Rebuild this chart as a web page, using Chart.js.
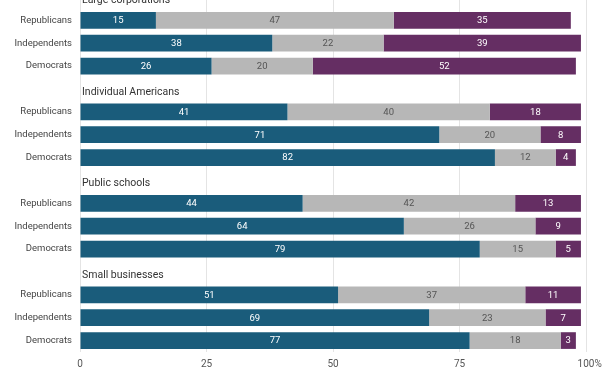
<!DOCTYPE html>
<html>
<head>
<meta charset="utf-8">
<script src="https://cdn.jsdelivr.net/npm/chart.js@4/dist/chart.umd.min.js"></script>
<style>
  html, body { margin: 0; padding: 0; background: #fff; overflow: hidden; }
  #wrap { position: absolute; left: 0; top: -14px; width: 612px; height: 388px; }
</style>
</head>
<body>
<div id="wrap"><canvas id="c" width="612" height="388"></canvas></div>
<script>
const groups = ["Large corporations", "Individual Americans", "Public schools", "Small businesses"];
const parties = ["Republicans", "Independents", "Democrats"];
const positive = [15, 38, 26, 41, 71, 82, 44, 64, 79, 51, 69, 77];
const neutral  = [47, 22, 20, 40, 20, 12, 42, 26, 15, 37, 23, 18];
const negative = [35, 39, 52, 18, 8, 4, 13, 9, 5, 11, 7, 3];
const xTicks = [0, 25, 50, 75, 100];

// build rows: one header slot + three party rows per group
const labels = [];
const headerIdx = [];
function expand(vals) {
  const out = [];
  groups.forEach((g, gi) => {
    out.push(null);
    parties.forEach((p, pi) => out.push(vals[gi * 3 + pi]));
  });
  return out;
}
groups.forEach((g, gi) => {
  headerIdx.push(labels.length);
  labels.push("");
  parties.forEach(p => labels.push(p));
});

const FONT = "Roboto, 'Liberation Sans', sans-serif";

const headerPlugin = {
  id: 'headers',
  afterDatasetsDraw(chart) {
    const ctx = chart.ctx;
    const xs = chart.scales.x, ys = chart.scales.y;
    ctx.save();
    // group headers
    ctx.font = "10.5px " + FONT;
    ctx.fillStyle = "#333";
    ctx.textAlign = "left";
    ctx.textBaseline = "middle";
    headerIdx.forEach((idx, gi) => {
      ctx.fillText(groups[gi], xs.getPixelForValue(0) + 2, ys.getPixelForValue(idx) + 3);
    });
    // value labels
    ctx.font = "9.5px " + FONT;
    ctx.textAlign = "center";
    chart.data.datasets.forEach((ds, di) => {
      const meta = chart.getDatasetMeta(di);
      meta.data.forEach((el, i) => {
        const v = ds.data[i];
        if (v === null || v === undefined) return;
        const cx = (el.x + el.base) / 2;
        ctx.fillStyle = ds.labelColor;
        ctx.fillText(String(v), cx, el.y + 0.5);
      });
    });
    ctx.restore();
  },
  afterDraw(chart) {
    // last x tick: "100" centred on the tick, "%" trailing
    const xs = chart.scales.x;
    const ctx = chart.ctx;
    const last = xTicks[xTicks.length - 1];
    ctx.save();
    ctx.font = "10px " + FONT;
    ctx.fillStyle = "#555";
    ctx.textAlign = "left";
    ctx.textBaseline = "middle";
    const x = xs.getPixelForValue(last);
    const w = ctx.measureText(String(last)).width;
    ctx.fillText(String(last) + "%", x - w / 2, xs.top + 12);
    ctx.restore();
  }
};

new Chart(document.getElementById('c'), {
  type: 'bar',
  data: {
    labels: labels,
    datasets: [
      { label: "Positive", data: expand(positive), backgroundColor: "#1a5c7b", labelColor: "#ffffff" },
      { label: "Neutral", data: expand(neutral), backgroundColor: "#b7b7b7", labelColor: "#555555" },
      { label: "Negative", data: expand(negative), backgroundColor: "#652e63", labelColor: "#ffffff" }
    ]
  },
  options: {
    indexAxis: 'y',
    responsive: false,
    animation: false,
    maintainAspectRatio: false,
    layout: { padding: { top: 0, right: 26, bottom: 0, left: 0 } },
    datasets: { bar: { barPercentage: 0.73, categoryPercentage: 1.0, borderWidth: 0 } },
    plugins: { legend: { display: false }, tooltip: { enabled: false } },
    scales: {
      x: {
        stacked: true,
        min: 0, max: 100,
        afterBuildTicks(scale) { scale.ticks = xTicks.map(v => ({ value: v })); },
        afterFit(scale) { scale.height = 22; scale.paddingRight = 0; },
        border: { display: false },
        grid: { color: "#e4e4e4", drawTicks: false, lineWidth: 1 },
        ticks: {
          padding: 6,
          color: "#555",
          font: { family: FONT, size: 10 },
          callback: v => v === xTicks[xTicks.length - 1] ? "" : String(v)
        }
      },
      y: {
        stacked: true,
        afterFit(scale) { scale.width = 80; scale.paddingTop = 0; scale.paddingBottom = 0; },
        border: { display: false },
        grid: { display: false, drawTicks: false },
        ticks: {
          padding: 8,
          color: "#444",
          font: { family: FONT, size: 9.5 },
          autoSkip: false
        }
      }
    }
  },
  plugins: [headerPlugin]
});
</script>
</body>
</html>
